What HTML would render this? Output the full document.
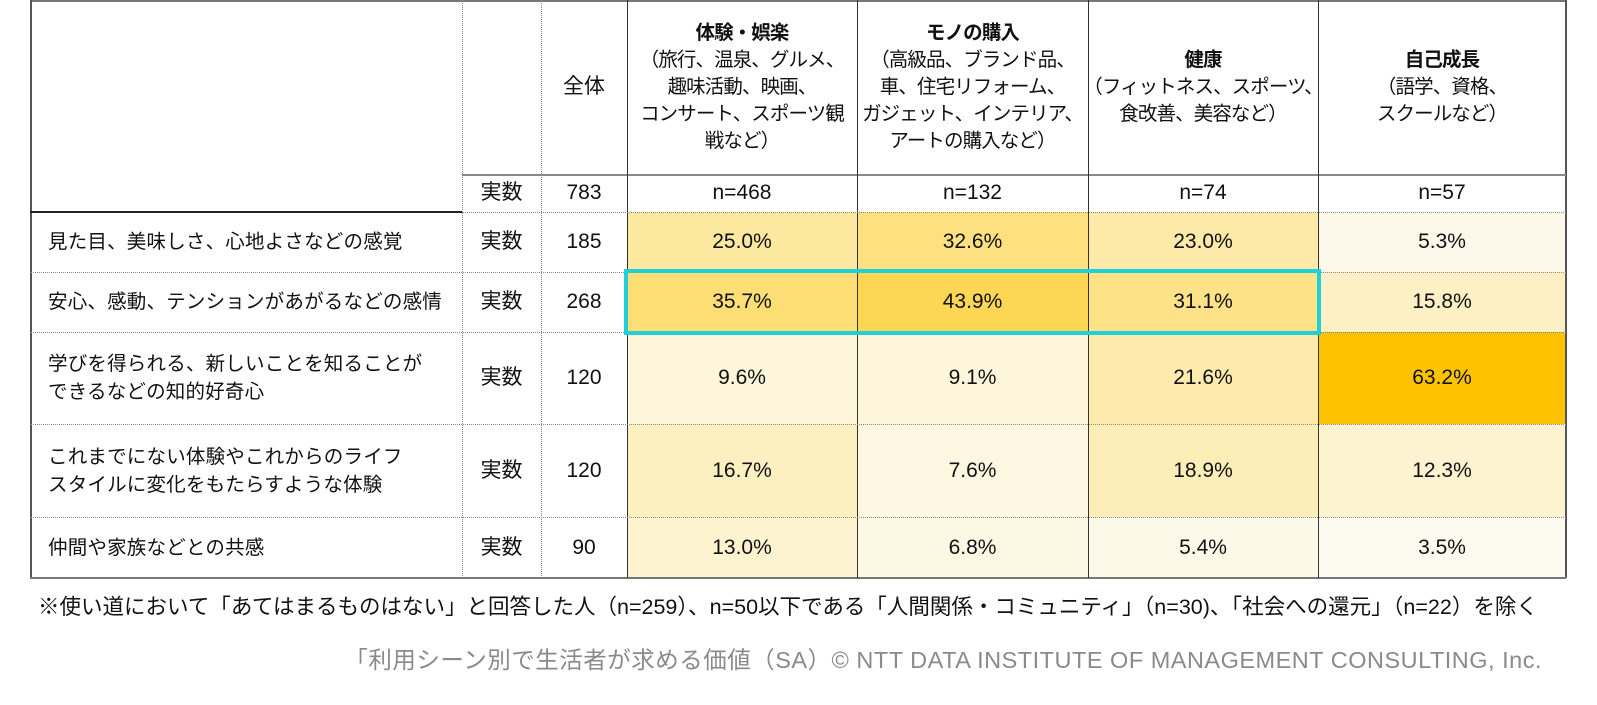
<!DOCTYPE html>
<html><head><meta charset="utf-8">
<style>
body{margin:0;width:1597px;height:705px;background:#fff;overflow:hidden;font-family:"Liberation Sans","Noto Sans CJK JP",sans-serif;color:#111;position:relative}
.c{position:absolute;display:flex;align-items:center;justify-content:center;text-align:center;font-size:21px;line-height:26px;box-sizing:border-box;white-space:nowrap}
.l{justify-content:flex-start;text-align:left;padding-left:18px;font-size:19.5px;line-height:28px;letter-spacing:0.2px}
.h{font-size:19.5px;line-height:27px;letter-spacing:-0.9px}
.ln{position:absolute}
</style></head><body>
<div id="tbl"></div>
<div class="c" style="left:38px;top:592px;height:30px;font-size:21.5px;letter-spacing:0px;justify-content:flex-start">※使い道において「あてはまるものはない」と回答した人（n=259）、n=50以下である「人間関係・コミュニティ」（n=30)、「社会への還元」（n=22）を除く</div>
<div class="c" style="right:55px;top:644px;height:32px;font-size:23.5px;letter-spacing:0.5px;color:#8a8a8a">「利用シーン別で生活者が求める価値（SA）© NTT DATA INSTITUTE OF MANAGEMENT CONSULTING, Inc.</div>
<script>
const categories=["体験・娯楽","モノの購入","健康","自己成長"];
const categorySubs=["（旅行、温泉、グルメ、<br>趣味活動、映画、<br>コンサート、スポーツ観<br>戦など）","（高級品、ブランド品、<br>車、住宅リフォーム、<br>ガジェット、インテリア、<br>アートの購入など）","（フィットネス、スポーツ、<br>食改善、美容など）","（語学、資格、<br>スクールなど）"];
const categoryN=[468,132,74,57];
const totalN=783;
const rowLabels=["見た目、美味しさ、心地よさなどの感覚","安心、感動、テンションがあがるなどの感情","学びを得られる、新しいことを知ることが<br>できるなどの知的好奇心","これまでにない体験やこれからのライフ<br>スタイルに変化をもたらすような体験","仲間や家族などとの共感"];
const rowCounts=[185,268,120,120,90];
const valuesExp=[25.0,35.7,9.6,16.7,13.0];
const valuesGoods=[32.6,43.9,9.1,7.6,6.8];
const valuesHealth=[23.0,31.1,21.6,18.9,5.4];
const valuesGrowth=[5.3,15.8,63.2,12.3,3.5];
const series=[valuesExp,valuesGoods,valuesHealth,valuesGrowth];
const highlightRow=1;

const T=document.getElementById('tbl');
const colX=[30,462,541,627,857,1088,1318,1566];
const rowY=[0,174,212,272,332,424,517,578];
function cell(x,y,w,h,html,cls,name,bg){
  const d=document.createElement('div');d.className='c '+(cls||'');
  d.style.cssText+=`left:${x}px;top:${y}px;width:${w}px;height:${h}px;`+(bg?`background:${bg};`:'');
  d.innerHTML=html;
  
  
  T.appendChild(d);return d;
}
function line(x,y,w,h,style,name){
  const d=document.createElement('div');d.className='ln';
  d.style.cssText=`left:${x}px;top:${y}px;width:${w}px;height:${h}px;`+style;
  
  
  T.appendChild(d);
}
function color(v){const t=Math.pow(Math.min(1,v/63.2),1.1);const r=253,g=Math.round(253-t*(253-195)),b=Math.round(250-t*250);return `rgb(${r},${g},${b})`;}
cell(colX[2],0,colX[3]-colX[2],174,"全体","","total-header");
categories.forEach((c,i)=>{cell(colX[3+i],0,colX[4+i]-colX[3+i],174,`<div><b>${c}</b><br>${categorySubs[i]}</div>`,"h","category-header");});
cell(colX[1],174,colX[2]-colX[1],38,"実数","","count-label");
cell(colX[2],174,colX[3]-colX[2],38,String(totalN),"","total-n");
categoryN.forEach((n,i)=>cell(colX[3+i],174,colX[4+i]-colX[3+i],38,"n="+n,"","category-n"));
rowLabels.forEach((lab,r)=>{
  const y=rowY[r+2],h=rowY[r+3]-y;
  cell(colX[0],y,colX[1]-colX[0],h,`<div>${lab}</div>`,"l","row-label");
  cell(colX[1],y,colX[2]-colX[1],h,"実数","","count-label");
  cell(colX[2],y,colX[3]-colX[2],h,String(rowCounts[r]),"","row-count");
  series.forEach((s,i)=>{cell(colX[3+i],y,colX[4+i]-colX[3+i],h,s[r].toFixed(1)+"%","","heat-cell",color(s[r]));});
});
line(30,0,1536,2,"background:#777","top-border");
line(30,0,1.5,578,"background:#555","left-border");
line(1565,0,1.5,578,"background:#555","right-border");
line(30,577,1536,2,"background:#777","bottom-border");
line(462,174,1104,2,"background:#888","header-rule");
line(30,211,432,1.5,"background:#222","label-rule");
[462,541].forEach(x=>line(x,0,0,578,"border-left:1px dotted #888","dotted-col"));
[627,857,1088,1318].forEach(x=>line(x,0,1.3,578,"background:#333","col-line"));
rowY.slice(2,7).forEach((y,i)=>{line(i==0?462:30,y,i==0?1104:1536,0,"border-top:1px dotted #888","dotted-row");});
const hy=rowY[highlightRow+2],hh=rowY[highlightRow+3]-hy;
line(colX[3]-3,hy-3,colX[6]-colX[3]+6,hh+6,"border:4px solid #1fd0d8;box-sizing:border-box","highlight-box");
</script>
</body></html>
